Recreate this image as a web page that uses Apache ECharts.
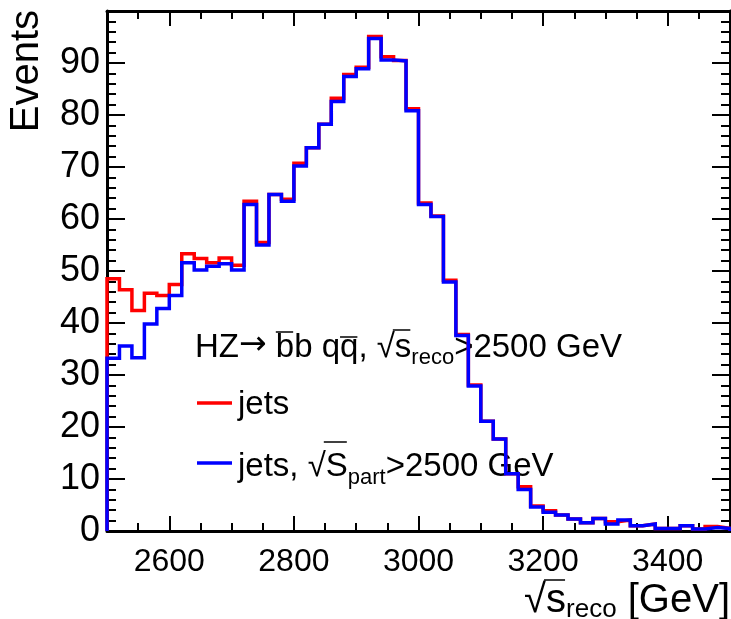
<!DOCTYPE html>
<html>
<head>
<meta charset="utf-8">
<script src="https://cdn.jsdelivr.net/npm/echarts@6.0.0/dist/echarts.min.js"></script>
<style>
  html, body { margin: 0; padding: 0; background: #fff; }
  #chart { width: 731px; height: 619px; }
</style>
</head>
<body>
<div id="chart"></div>
<script>
// histogram binning (GeV)
const binStart = 2500;
const binWidth = 20;

// "jets" (red)
const jets = [
  48.5, 46.4, 42.4, 45.7, 45.3, 47.4, 53.3, 52.4, 51.6, 52.5,
  51.1, 63.4, 55.5, 64.7, 63.8, 70.7, 73.7, 78.2, 83.2, 87.8,
  89.2, 95.1, 91.2, 90.5, 81.2, 63.1, 60.6, 48.2, 37.8, 28.1,
  21.1, 17.7, 11.0, 8.5, 4.8, 3.9, 3.1, 2.3, 1.6, 2.4,
  1.8, 2.1, 1.0, 1.35, 0.5, 0.5, 1.0, 0.4, 0.85, 0.5
];

// "jets, sqrt(S_part) > 2500 GeV" (blue)
const jetsPart = [
  33.2, 35.6, 33.3, 39.8, 42.8, 45.3, 51.6, 50.2, 50.9, 51.4,
  50.2, 62.8, 55.0, 64.7, 63.4, 70.2, 73.7, 78.2, 82.6, 87.4,
  88.9, 94.7, 90.6, 90.4, 80.8, 62.8, 60.5, 47.9, 37.6, 27.9,
  21.1, 17.7, 11.0, 8.0, 4.6, 3.6, 3.1, 2.3, 1.6, 2.4,
  1.35, 2.1, 1.0, 1.35, 0.5, 0.5, 1.0, 0.4, 0.65, 0.5
];

const xMajorTicks = [2600, 2800, 3000, 3200, 3400];
const yTickLabels = [0, 10, 20, 30, 40, 50, 60, 70, 80, 90];

const fontFamily = 'Liberation Sans';
const xMin = 2500, xMax = 3500, yMin = 0, yMax = 100;

// outline of a histogram: bin edges with step drawing
function histPoints(values) {
  const pts = [[binStart, 0]];
  values.forEach((v, i) => pts.push([binStart + i * binWidth, v]));
  const end = binStart + values.length * binWidth;
  pts.push([end, values[values.length - 1]]);
  pts.push([end, 0]);
  return pts;
}

const measureCtx = document.createElement('canvas').getContext('2d');
function textWidth(str, size, family) {
  measureCtx.font = size + 'px "' + (family || fontFamily) + '"';
  return measureCtx.measureText(str).width;
}

// a run of text pieces on one baseline (sub/superscripts, overlines)
function textRun(x, baseline, parts, align) {
  const els = [];
  const total = parts.reduce((s, p) => s + textWidth(p.t, p.size, p.font), 0);
  let cx = align === 'right' ? x - total : x;
  parts.forEach(p => {
    const w = textWidth(p.t, p.size, p.font);
    const by = baseline + (p.dy || 0);
    els.push({
      type: 'text', x: cx, y: by - 0.31 * p.size + (p.shift || 0), silent: true,
      style: { text: p.t, fontSize: p.size, fontFamily: p.font || fontFamily, fill: '#000', align: 'left', verticalAlign: 'middle' }
    });
    if (p.over) {
      els.push({
        type: 'line', silent: true,
        shape: { x1: cx + (p.overPad || 0), y1: by - p.over, x2: cx + w - 1, y2: by - p.over },
        style: { stroke: '#000', lineWidth: 1.5 }
      });
    }
    cx += w;
  });
  return els;
}

const axisColor = '#000';
const tickStyle = { color: axisColor, width: 2 };

function xAxisDef(position, major, withLabels) {
  return {
    type: 'value', min: xMin, max: xMax, position,
    interval: 50,
    axisLine: { show: !major, lineStyle: { color: axisColor, width: 3 } },
    axisTick: major
      ? { show: true, inside: true, length: 15, customValues: xMajorTicks, lineStyle: tickStyle }
      : { show: true, inside: true, length: 8, lineStyle: tickStyle },
    axisLabel: withLabels
      ? { show: true, customValues: xMajorTicks, color: '#000', fontSize: 32, fontFamily, margin: 15,
          formatter: v => String(v) }
      : { show: false },
    splitLine: { show: false }
  };
}

function yAxisDef(position, withLabels) {
  return {
    type: 'value', min: yMin, max: yMax, interval: 10, position,
    axisLine: { show: true, lineStyle: { color: axisColor, width: 3 } },
    axisTick: { show: true, inside: true, length: 18, lineStyle: tickStyle },
    minorTick: { show: true, splitNumber: 5, length: 9, lineStyle: tickStyle },
    axisLabel: withLabels
      ? { show: true, color: '#000', fontSize: 36, fontFamily, margin: 7,
          formatter: v => (yTickLabels.includes(v) ? String(v) : '') }
      : { show: false },
    splitLine: { show: false },
    minorSplitLine: { show: false }
  };
}

const chart = echarts.init(document.getElementById('chart'), null, { renderer: 'canvas' });

const graphics = [
  {
    type: 'text', x: 27, y: 10, rotation: Math.PI / 2, silent: true,
    style: { text: 'Events', fontSize: 40, fontFamily, fill: '#000', align: 'right', verticalAlign: 'middle' }
  },
  ...textRun(730, 613, [
    { t: '\u221a', size: 40 },
    { t: 's', size: 40, over: 33, overPad: -2 },
    { t: 'reco', size: 26, dy: 5 },
    { t: ' [GeV]', size: 40 }
  ], 'right'),
  ...textRun(195, 358, [
    { t: 'HZ', size: 33 },
    { t: '\u2192', size: 33, font: 'DejaVu Sans', shift: -2 },
    { t: ' ', size: 33 },
    { t: 'b', size: 33, over: 26 },
    { t: 'b q', size: 33 },
    { t: 'q', size: 33, over: 21 },
    { t: ', \u221a', size: 33 },
    { t: 's', size: 33, over: 28, overPad: -2 },
    { t: 'reco', size: 22, dy: 7 },
    { t: '>2500 GeV', size: 33 }
  ]),
  { type: 'line', silent: true, shape: { x1: 197, y1: 403, x2: 232, y2: 403 }, style: { stroke: '#ff0000', lineWidth: 3.5 } },
  ...textRun(238, 415, [{ t: 'jets', size: 33 }]),
  { type: 'line', silent: true, shape: { x1: 197, y1: 463, x2: 232, y2: 463 }, style: { stroke: '#0000ff', lineWidth: 3.5 } },
  ...textRun(238, 477, [
    { t: 'jets, \u221a', size: 33 },
    { t: 'S', size: 33, over: 35, overPad: -2 },
    { t: 'part', size: 22, dy: 8 },
    { t: '>2500 GeV', size: 33 }
  ])
];

chart.setOption({
  animation: false,
  backgroundColor: '#fff',
  grid: { left: 107, right: 1, top: 11, bottom: 88, containLabel: false, outerBoundsMode: 'none' },
  xAxis: [
    xAxisDef('bottom', false, true),
    xAxisDef('bottom', true, false),
    xAxisDef('top', false, false),
    xAxisDef('top', true, false)
  ],
  yAxis: [
    yAxisDef('left', true),
    yAxisDef('right', false)
  ],
  series: [
    {
      name: 'jets', type: 'line', xAxisIndex: 0, yAxisIndex: 0,
      data: histPoints(jets), step: 'end', symbol: 'none', clip: false, z: 3,
      lineStyle: { color: '#ff0000', width: 3.5, join: 'miter', cap: 'butt' }
    },
    {
      name: 'jets part', type: 'line', xAxisIndex: 0, yAxisIndex: 0,
      data: histPoints(jetsPart), step: 'end', symbol: 'none', clip: false, z: 4,
      lineStyle: { color: '#0000ff', width: 3.5, join: 'miter', cap: 'butt' }
    }
  ],
  graphic: { elements: graphics }
});
</script>
</body>
</html>
